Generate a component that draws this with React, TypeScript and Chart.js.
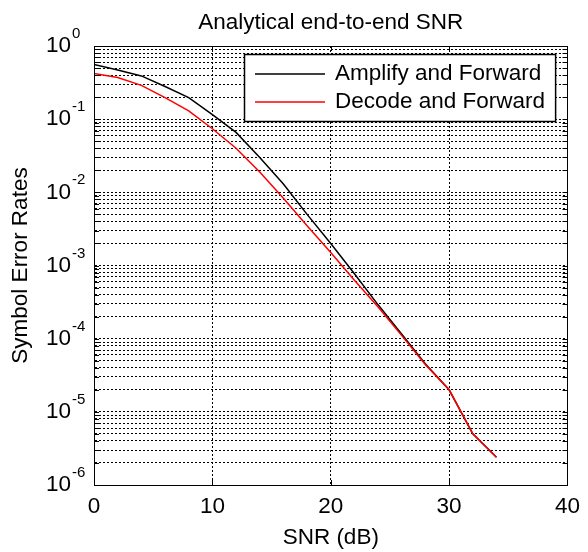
import { useEffect, useRef } from 'react';
import { Chart, registerables } from 'chart.js';

Chart.register(...registerables);

const snrDb = [0, 2, 4, 6, 8, 10, 12, 14, 16, 18, 20, 22, 24, 26, 28, 30, 32, 34];
const amplifyForward = [0.56, 0.47, 0.39, 0.28, 0.197, 0.115, 0.066, 0.030, 0.013, 0.005, 0.002, 7.7e-4, 2.9e-4, 1.15e-4, 4.5e-5, 2.0e-5, 5.0e-6, 2.4e-6];
const decodeForward = [0.42, 0.37, 0.29, 0.197, 0.13, 0.074, 0.040, 0.019, 0.0083, 0.0035, 0.0015, 6.3e-4, 2.7e-4, 1.1e-4, 4.4e-5, 2.0e-5, 5.0e-6, 2.4e-6];
const seriesNames = ['Amplify and Forward', 'Decode and Forward'];
const seriesColors = ['#000000', '#ff0000'];
const seriesOrder = [1, 0];
const xTickValues = [0, 10, 20, 30, 40];
const yExponents = [-6, -5, -4, -3, -2, -1, 0];
const yMinorSteps = [1, 2, 3, 4, 5, 6, 7, 8, 9];
const titleText = 'Analytical end-to-end SNR';
const xTitle = 'SNR (dB)';
const yTitle = 'Symbol Error Rates';

const FONT = '"Liberation Sans", Arial, Helvetica, sans-serif';
const FS = 22.5;
const Y_TICK_PAD = 23;

const isDecade = (v: number) => Math.abs(Math.log10(v) - Math.round(Math.log10(v))) < 1e-9;

const decorPlugin = {
  id: 'decor',
  afterDraw(chart: any) {
    const { ctx, chartArea: a, scales } = chart;
    const ys = scales.y;
    const xs = scales.x;
    ctx.save();
    ctx.strokeStyle = '#000';
    ctx.lineWidth = 1;
    ctx.setLineDash([]);
    ctx.beginPath();
    ys.ticks.forEach((t: any) => {
      const py = Math.round(ys.getPixelForValue(t.value)) + 0.5;
      ctx.moveTo(a.left, py);
      ctx.lineTo(a.left + 5, py);
      ctx.moveTo(a.right, py);
      ctx.lineTo(a.right - 5, py);
    });
    xs.ticks.forEach((t: any) => {
      const px = Math.round(xs.getPixelForValue(t.value)) + 0.5;
      ctx.moveTo(px, a.bottom);
      ctx.lineTo(px, a.bottom - 5);
      ctx.moveTo(px, a.top);
      ctx.lineTo(px, a.top + 5);
    });
    ctx.stroke();
    ctx.strokeRect(Math.round(a.left) + 0.5, Math.round(a.top) + 0.5, Math.round(a.right - a.left), Math.round(a.bottom - a.top));

    // exponents of y tick labels
    ctx.fillStyle = '#000';
    ctx.font = `15px ${FONT}`;
    ctx.textAlign = 'left';
    ctx.textBaseline = 'middle';
    const labelRight = a.left - Y_TICK_PAD;
    yExponents.forEach((e) => {
      const py = ys.getPixelForValue(Math.pow(10, e));
      ctx.fillText(String(e), labelRight + 1, py - 12);
    });

    // legend box
    ctx.font = `${FS}px ${FONT}`;
    const textW = Math.max(...seriesNames.map((n) => ctx.measureText(n).width));
    const boxW = 11 + 70 + 10 + textW + 10;
    const boxH = 67;
    const bx = Math.round(a.right - 12 - boxW);
    const by = Math.round(a.top + 8);
    ctx.fillStyle = '#fff';
    ctx.fillRect(bx, by, boxW, boxH);
    ctx.strokeStyle = '#000';
    ctx.lineWidth = 1.5;
    ctx.strokeRect(bx + 0.5, by + 0.5, boxW, boxH);
    seriesNames.forEach((name, i) => {
      const cy = by + 20 + i * 28;
      ctx.strokeStyle = seriesColors[i];
      ctx.lineWidth = 1.5;
      ctx.beginPath();
      ctx.moveTo(bx + 11, cy);
      ctx.lineTo(bx + 81, cy);
      ctx.stroke();
      ctx.fillStyle = '#000';
      ctx.textAlign = 'left';
      ctx.textBaseline = 'middle';
      ctx.fillText(name, bx + 91, cy);
    });
    ctx.restore();
  },
};

export default function App() {
  const ref = useRef<HTMLCanvasElement | null>(null);
  useEffect(() => {
    if (!ref.current) return;
    const series = [amplifyForward, decodeForward];
    const chart = new Chart(ref.current, {
      type: 'line',
      data: {
        datasets: series.map((vals, i) => ({
          label: seriesNames[i],
          data: snrDb.map((x, j) => ({ x, y: vals[j] })),
          borderColor: seriesColors[i],
          backgroundColor: seriesColors[i],
          borderWidth: 1.5,
          pointRadius: 0,
          tension: 0,
          fill: false,
          order: seriesOrder[i],
        })),
      },
      options: {
        responsive: false,
        animation: false,
        layout: { padding: { left: 0, right: 20, top: 0, bottom: 0 } },
        plugins: {
          legend: { display: false },
          tooltip: { enabled: false },
          title: {
            display: true,
            fullSize: false,
            text: titleText,
            color: '#000',
            font: { family: FONT, size: FS, weight: 'normal' },
            padding: { top: 9, bottom: 10 },
          },
        },
        scales: {
          x: {
            type: 'linear',
            min: 0,
            max: 40,
            afterBuildTicks: (scale: any) => {
              scale.ticks = xTickValues.map((v) => ({ value: v }));
            },
            ticks: {
              color: '#000',
              font: { family: FONT, size: FS },
              padding: 8,
              maxRotation: 0,
              autoSkip: false,
            },
            grid: {
              color: '#000',
              lineWidth: 1,
              drawTicks: false,
            },
            border: { display: true, color: '#000', width: 1, dash: [2, 2] },
            title: {
              display: true,
              text: xTitle,
              color: '#000',
              font: { family: FONT, size: FS },
              padding: { top: -4, bottom: 1 },
            },
          },
          y: {
            type: 'logarithmic',
            min: 1e-6,
            max: 1,
            afterBuildTicks: (scale: any) => {
              const t: any[] = [];
              yExponents.forEach((e) => {
                if (e === 0) {
                  t.push({ value: 1 });
                } else {
                  yMinorSteps.forEach((k) => t.push({ value: k * Math.pow(10, e) }));
                }
              });
              scale.ticks = t;
            },
            ticks: {
              color: '#000',
              font: { family: FONT, size: FS },
              padding: Y_TICK_PAD,
              autoSkip: false,
              callback: (v: any) => (isDecade(Number(v)) ? '10' : ''),
            },
            grid: {
              color: '#000',
              lineWidth: 1,
              drawTicks: false,
            },
            border: { display: true, color: '#000', width: 1, dash: [2, 2] },
            title: {
              display: true,
              text: yTitle,
              color: '#000',
              font: { family: FONT, size: FS },
              padding: { top: 7, bottom: -11 },
            },
          },
        },
      },
      plugins: [decorPlugin],
    } as any);
    return () => chart.destroy();
  }, []);
  return (
    <div style={{ position: 'absolute', left: 0, top: 0, width: 588, height: 552, background: '#fff' }}>
      <canvas ref={ref} width={588} height={552} style={{ display: 'block' }} />
    </div>
  );
}
